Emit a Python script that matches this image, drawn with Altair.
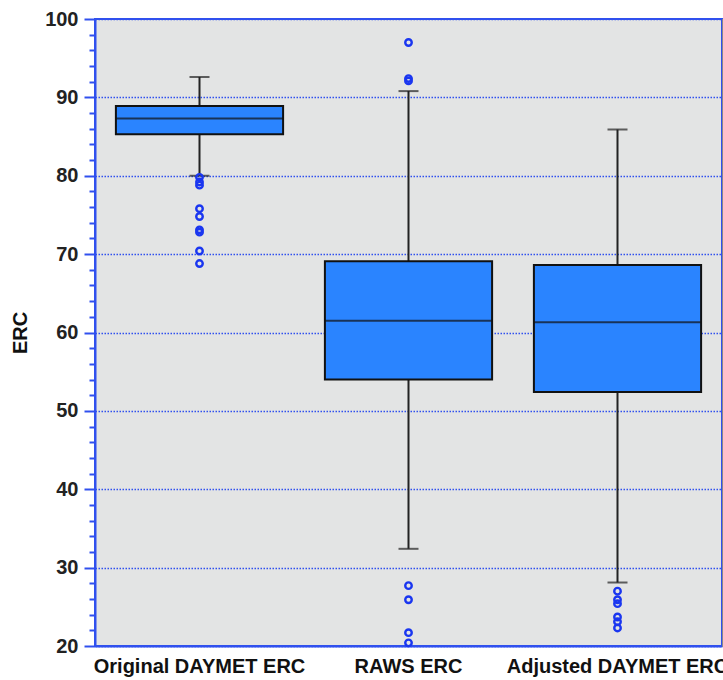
import altair as alt
import pandas as pd

# Box summary statistics per series
categories = ["Original DAYMET ERC", "RAWS ERC", "Adjusted DAYMET ERC"]
whisker_low = [80.0, 32.4, 28.1]
q1 = [85.3, 54.0, 52.4]
median = [87.3, 61.5, 61.3]
q3 = [88.9, 69.1, 68.6]
whisker_high = [92.6, 90.8, 85.9]

# Outlying observations per series
outlier_cat = (["Original DAYMET ERC"] * 9
               + ["RAWS ERC"] * 7
               + ["Adjusted DAYMET ERC"] * 6)
outlier_val = ([79.8, 79.2, 78.8, 75.8, 74.8, 73.1, 72.8, 70.4, 68.8]
               + [97.0, 92.4, 92.1, 27.7, 25.9, 21.7, 20.4]
               + [27.0, 25.9, 25.4, 23.7, 23.1, 22.3])

major_ticks = [20, 30, 40, 50, 60, 70, 80, 90, 100]
minor_ticks = [v for v in range(20, 101, 2) if v % 10 != 0]

boxes = pd.DataFrame({
    "cat": categories, "low": whisker_low, "q1": q1,
    "median": median, "q3": q3, "high": whisker_high,
})
outliers = pd.DataFrame({"cat": outlier_cat, "value": outlier_val})

AXIS_BLUE = "#3050ee"
BOX_BLUE = "#2a84ff"
FONT = "Liberation Sans"

x_enc = alt.X(
    "cat:N", sort=categories, title=None,
    scale=alt.Scale(paddingInner=0, paddingOuter=0),
    axis=alt.Axis(
        labelAngle=0, labelFont=FONT, labelFontSize=20, labelFontWeight="bold",
        labelColor="#111", labelPadding=10, ticks=False, labelLimit=0,
        labelOverlap=False, labelFlush=False,
        domainColor=AXIS_BLUE, domainWidth=2,
    ),
)
y_scale = alt.Scale(domain=[20, 100], nice=False, zero=False)
y_axis = alt.Axis(
    values=major_ticks, title="ERC", titleFont=FONT, titleFontSize=20,
    titleFontWeight="bold", titleColor="#111", titlePadding=14,
    labelFont=FONT, labelFontSize=20, labelFontWeight="bold", labelColor="#222",
    labelPadding=6, tickSize=11, tickWidth=2, tickColor=AXIS_BLUE,
    domainColor=AXIS_BLUE, domainWidth=2,
    grid=True, gridColor=AXIS_BLUE, gridDash=[1.5, 1.5], gridWidth=1.5,
    orient="left",
)
minor_axis = alt.Axis(
    values=minor_ticks, labels=False, title=None, tickSize=6, tickWidth=2,
    tickColor=AXIS_BLUE, domain=False, grid=False, orient="left",
)

base = alt.Chart(boxes)

whiskers = base.mark_rule(color="#222", strokeWidth=2).encode(
    x=x_enc,
    y=alt.Y("low:Q", scale=y_scale, axis=y_axis),
    y2="high:Q",
)

caps = base.transform_fold(["low", "high"], as_=["end", "v"]).mark_tick(
    color="#222", size=20, thickness=2
).encode(
    x=alt.X("cat:N", sort=categories),
    y=alt.Y("v:Q", scale=y_scale),
)

box = base.mark_bar(
    color=BOX_BLUE, stroke="#111", strokeWidth=2, width=alt.RelativeBandSize(0.8)
).encode(
    x=alt.X("cat:N", sort=categories),
    y=alt.Y("q1:Q", scale=y_scale),
    y2="q3:Q",
)

mid = base.mark_tick(color="#111", size=167, thickness=2).encode(
    x=alt.X("cat:N", sort=categories),
    y=alt.Y("median:Q", scale=y_scale),
)

points = alt.Chart(outliers).mark_point(
    shape="circle", filled=False, color="#1a36f0", size=42, strokeWidth=2.4,
    opacity=1,
).encode(
    x=alt.X("cat:N", sort=categories),
    y=alt.Y("value:Q", scale=y_scale, axis=minor_axis),
)

chart = (
    alt.layer(whiskers, caps, box, mid, points)
    .resolve_axis(y="independent")
    .properties(
        width=627, height=627,
        autosize=alt.AutoSizeParams(type="none"),
        padding={"left": 95, "top": 19, "right": 1, "bottom": 34},
        background="white",
    )
    .configure_view(fill="#e3e4e4", stroke=AXIS_BLUE, strokeWidth=2)
)

chart.save("out.html", embed_options={"renderer": "svg", "actions": False})
